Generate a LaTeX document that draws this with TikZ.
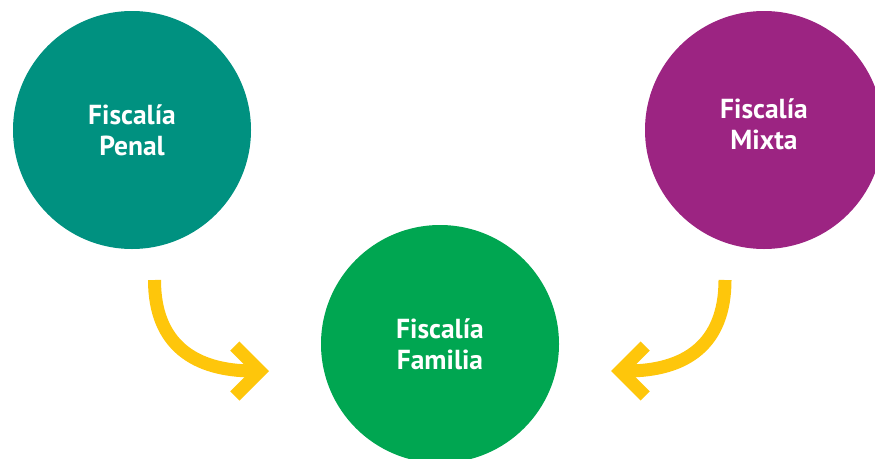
\documentclass[tikz,border=0pt]{standalone}
\usepackage{fontspec}
\setmainfont{PT Sans}
\usetikzlibrary{arrows.meta}
\definecolor{verdeazul}{RGB}{0,145,128}
\definecolor{morado}{RGB}{156,36,130}
\definecolor{verde}{RGB}{0,166,81}
\definecolor{amarillo}{RGB}{254,198,11}

\begin{document}
\begin{tikzpicture}[x=1pt,y=-1pt,
  fiscalia/.style={circle,minimum size=238pt,inner sep=0pt,text=white,
    font=\fontsize{27.5}{31}\selectfont\bfseries,align=center},
  flecha/.style={amarillo,line width=13pt,
    -{Straight Barb[length=25pt,width=50pt,line join=miter]}}]
  \useasboundingbox (0,0) rectangle (875,458);
  % the three offices
  \node[fiscalia,fill=verdeazul] (penal) at (132,130) {Fiscalía\\Penal};
  \node[fiscalia,fill=morado,text depth=11pt] (mixta) at (764,130) {Fiscalía\\Mixta};
  \node[fiscalia,fill=verde] (familia) at (440,344) {Fiscalía\\Familia};
  % ends of the arrows
  \coordinate (penal-ini) at (154.5,280);
  \coordinate (penal-fin) at (269,371);
  \coordinate (mixta-ini) at (725,280);
  \coordinate (mixta-fin) at (611,371);
  \draw[flecha] (penal-ini) .. controls (154.5,345) and (195,371) .. (penal-fin);
  \draw[flecha] (mixta-ini) .. controls (725,345) and (685,371) .. (mixta-fin);
\end{tikzpicture}
\end{document}
